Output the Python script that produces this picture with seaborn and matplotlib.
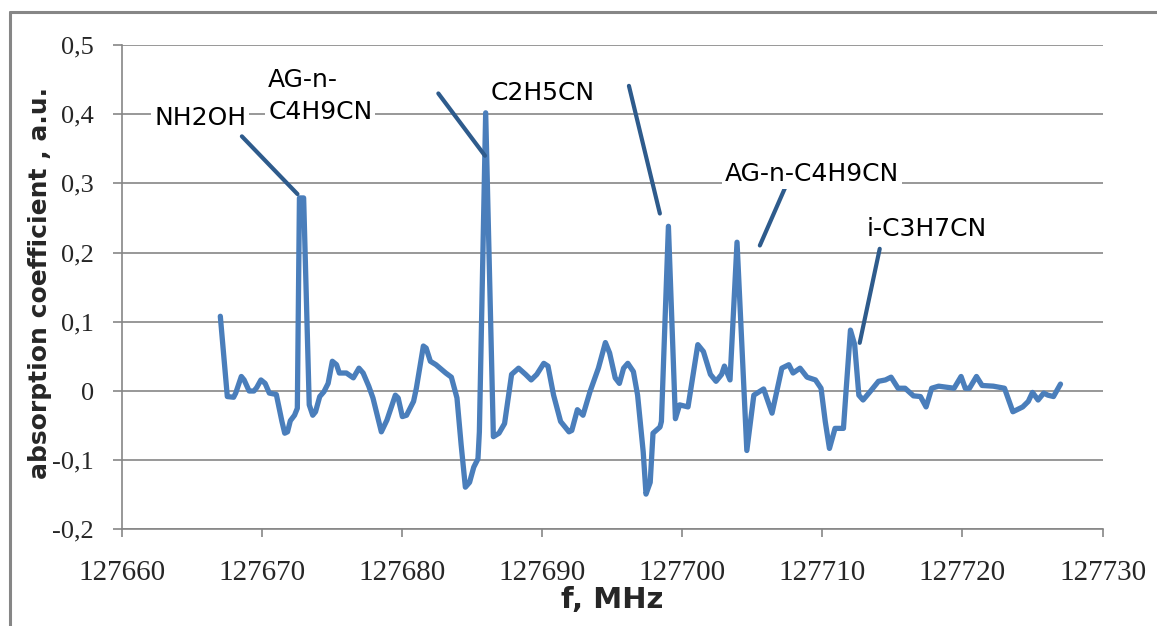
import numpy as np
import pandas as pd
import matplotlib
matplotlib.use("Agg")
import matplotlib.pyplot as plt
from matplotlib.ticker import FuncFormatter, MultipleLocator
from matplotlib.lines import Line2D
import seaborn as sns

# ---- data ----
freq = [
    127667.0, 127667.5, 127667.95, 127668.1, 127668.5, 127668.7, 127669.06, 127669.4,
    127669.6, 127669.9, 127670.2, 127670.5, 127671.0, 127671.4, 127671.6, 127671.8,
    127672.0, 127672.3, 127672.5, 127672.65, 127672.95, 127673.35, 127673.6, 127673.8,
    127674.1, 127674.4, 127674.7, 127675.0, 127675.3, 127675.5, 127676.0, 127676.5,
    127676.9, 127677.2, 127677.6, 127677.9, 127678.5, 127678.9, 127679.5, 127679.7,
    127680.0, 127680.3, 127680.8, 127681.0, 127681.5, 127681.7, 127682.0, 127682.4,
    127683.1, 127683.5, 127683.9, 127684.2, 127684.5, 127684.8, 127685.1, 127685.4,
    127685.5, 127685.95, 127686.5, 127686.9, 127687.3, 127687.8, 127688.3, 127688.8,
    127689.2, 127689.6, 127690.1, 127690.4, 127690.8, 127691.3, 127691.9, 127692.1,
    127692.5, 127692.9, 127693.4, 127694.0, 127694.5, 127694.8, 127695.2, 127695.5,
    127695.8, 127696.1, 127696.5, 127696.8, 127697.2, 127697.4, 127697.7, 127697.9,
    127698.4, 127698.5, 127699.0, 127699.5, 127699.8, 127700.4, 127701.1, 127701.5,
    127702.0, 127702.4, 127702.8, 127703.0, 127703.4, 127703.9, 127704.6, 127705.1,
    127705.8, 127706.4, 127707.1, 127707.6, 127707.9, 127708.4, 127708.9, 127709.5,
    127709.9, 127710.2, 127710.5, 127710.9, 127711.5, 127711.7, 127712.0, 127712.3,
    127712.6, 127712.9, 127713.4, 127714.0, 127714.5, 127714.9, 127715.4, 127715.9,
    127716.5, 127717.0, 127717.4, 127717.8, 127718.3, 127719.4, 127719.9, 127720.2,
    127720.5, 127721.0, 127721.4, 127722.2, 127723.0, 127723.6, 127724.3, 127724.7,
    127725.0, 127725.4, 127725.8, 127726.1, 127726.5, 127727.0,
]
absorption = [
    0.108, -0.008, -0.009, -0.003, 0.021, 0.016, 0.000, 0.000,
    0.005, 0.016, 0.011, -0.003, -0.005, -0.044, -0.061, -0.059,
    -0.043, -0.035, -0.025, 0.279, 0.279, -0.020, -0.035, -0.030,
    -0.008, -0.001, 0.011, 0.043, 0.038, 0.026, 0.026, 0.019,
    0.033, 0.026, 0.007, -0.010, -0.059, -0.042, -0.006, -0.010,
    -0.037, -0.035, -0.015, 0.004, 0.065, 0.062, 0.043, 0.038,
    0.026, 0.020, -0.010, -0.078, -0.139, -0.132, -0.110, -0.098,
    -0.059, 0.402, -0.066, -0.061, -0.047, 0.024, 0.033, 0.024,
    0.016, 0.024, 0.040, 0.036, -0.006, -0.044, -0.059, -0.057,
    -0.027, -0.035, -0.001, 0.033, 0.070, 0.055, 0.019, 0.011,
    0.033, 0.040, 0.028, -0.006, -0.088, -0.149, -0.132, -0.061,
    -0.052, -0.044, 0.238, -0.040, -0.020, -0.023, 0.067, 0.057,
    0.024, 0.014, 0.024, 0.036, 0.016, 0.215, -0.086, -0.006,
    0.003, -0.032, 0.033, 0.038, 0.026, 0.033, 0.020, 0.016,
    0.004, -0.044, -0.083, -0.054, -0.054, 0.004, 0.088, 0.067,
    -0.006, -0.013, -0.001, 0.014, 0.016, 0.020, 0.004, 0.004,
    -0.007, -0.008, -0.023, 0.004, 0.007, 0.004, 0.021, 0.004,
    0.004, 0.021, 0.008, 0.007, 0.004, -0.030, -0.023, -0.015,
    -0.002, -0.013, -0.003, -0.006, -0.008, 0.010,
]

x_ticks = [127660, 127670, 127680, 127690, 127700, 127710, 127720, 127730]
y_ticks = [-0.2, -0.1, 0.0, 0.1, 0.2, 0.3, 0.4, 0.5]

# labels: text, text position (f, a), leader line start (f, a), leader line end (f, a)
label_texts = ["NH2OH", "AG-n-\nC4H9CN", "C2H5CN", "AG-n-C4H9CN", "i-C3H7CN"]
label_pos = [(127665.57, 0.395), (127670.42, 0.4265), (127690.04, 0.430),
             (127709.24, 0.3137), (127717.44, 0.2336)]
label_ha = ["center", "left", "center", "center", "center"]
leader_from = [(127668.54, 0.368), (127682.57, 0.430), (127696.18, 0.441),
               (127707.38, 0.296), (127714.09, 0.2055)]
leader_to = [(127672.51, 0.2846), (127685.90, 0.340), (127698.39, 0.2565),
             (127705.53, 0.2103), (127712.66, 0.0696)]

df = pd.DataFrame({"f": freq, "a": absorption})

sns.set_style("white")
plt.rcParams["font.family"] = ["DejaVu Sans"]

fig = plt.figure(figsize=(11.57, 6.26), dpi=100)
ax = fig.add_axes([0.1057, 0.1543, 0.8472, 0.7738])

grid_c = "#868686"
sns.lineplot(data=df, x="f", y="a", ax=ax, color="#4A7EBB", linewidth=3.8,
             zorder=3, sort=False, estimator=None,
             solid_joinstyle="round", solid_capstyle="round")

ax.set_xlim(127660, 127730)
ax.set_ylim(-0.2, 0.5)
ax.set_xticks(x_ticks)
ax.set_yticks(y_ticks)
ax.yaxis.set_major_formatter(FuncFormatter(
    lambda v, p: "0" if abs(v) < 1e-9 else f"{v:.1f}".replace(".", ",")))
ax.xaxis.set_major_formatter(FuncFormatter(lambda v, p: f"{int(round(v))}"))

ax.grid(axis="y", color=grid_c, linewidth=1.2)
ax.grid(axis="x", visible=False)
ax.set_axisbelow(True)
for s in ["top", "right"]:
    ax.spines[s].set_visible(False)
for s in ["left", "bottom"]:
    ax.spines[s].set_color(grid_c)
    ax.spines[s].set_linewidth(1.2)

ax.tick_params(axis="x", direction="out", length=6, width=1.2, color=grid_c,
               pad=16, labelsize=21, bottom=True)
ax.tick_params(axis="y", direction="out", length=6.5, width=1.2, color=grid_c,
               pad=14, labelsize=19, left=True)
for lab in ax.get_xticklabels() + ax.get_yticklabels():
    lab.set_family("Liberation Serif")

ax.set_xlabel("")
ax.set_ylabel("")
fig.text(612 / 1157, 1 - 600 / 626, "f, MHz", ha="center", va="center",
         fontsize=21, fontweight="bold")
fig.text(40 / 1157, 1 - 283 / 626, "absorption coefficient , a.u.", ha="center",
         va="center", rotation=90, fontsize=18, fontweight="bold")

lead_c = "#2E5B8C"
for (x0, y0), (x1, y1) in zip(leader_from, leader_to):
    ax.annotate("", xy=(x1, y1), xytext=(x0, y0),
                arrowprops=dict(arrowstyle="-", color=lead_c, lw=3.0,
                                shrinkA=0, shrinkB=0), zorder=4)
for txt, (tx, ty), ha in zip(label_texts, label_pos, label_ha):
    ax.text(tx, ty, txt, ha=ha, va="center", fontsize=18, color="black",
            linespacing=1.45, zorder=5,
            bbox=dict(boxstyle="square,pad=0.12", fc="white", ec="none"))

# outer chart border (left and top edges visible)
fig.add_artist(Line2D([9.5 / 1157, 9.5 / 1157], [0, 1 - 12 / 626],
                      transform=fig.transFigure, color=grid_c, lw=2.2))
fig.add_artist(Line2D([9.5 / 1157, 1], [1 - 12 / 626, 1 - 12 / 626],
                      transform=fig.transFigure, color=grid_c, lw=2.2))

fig.savefig("out.png", dpi=100)
